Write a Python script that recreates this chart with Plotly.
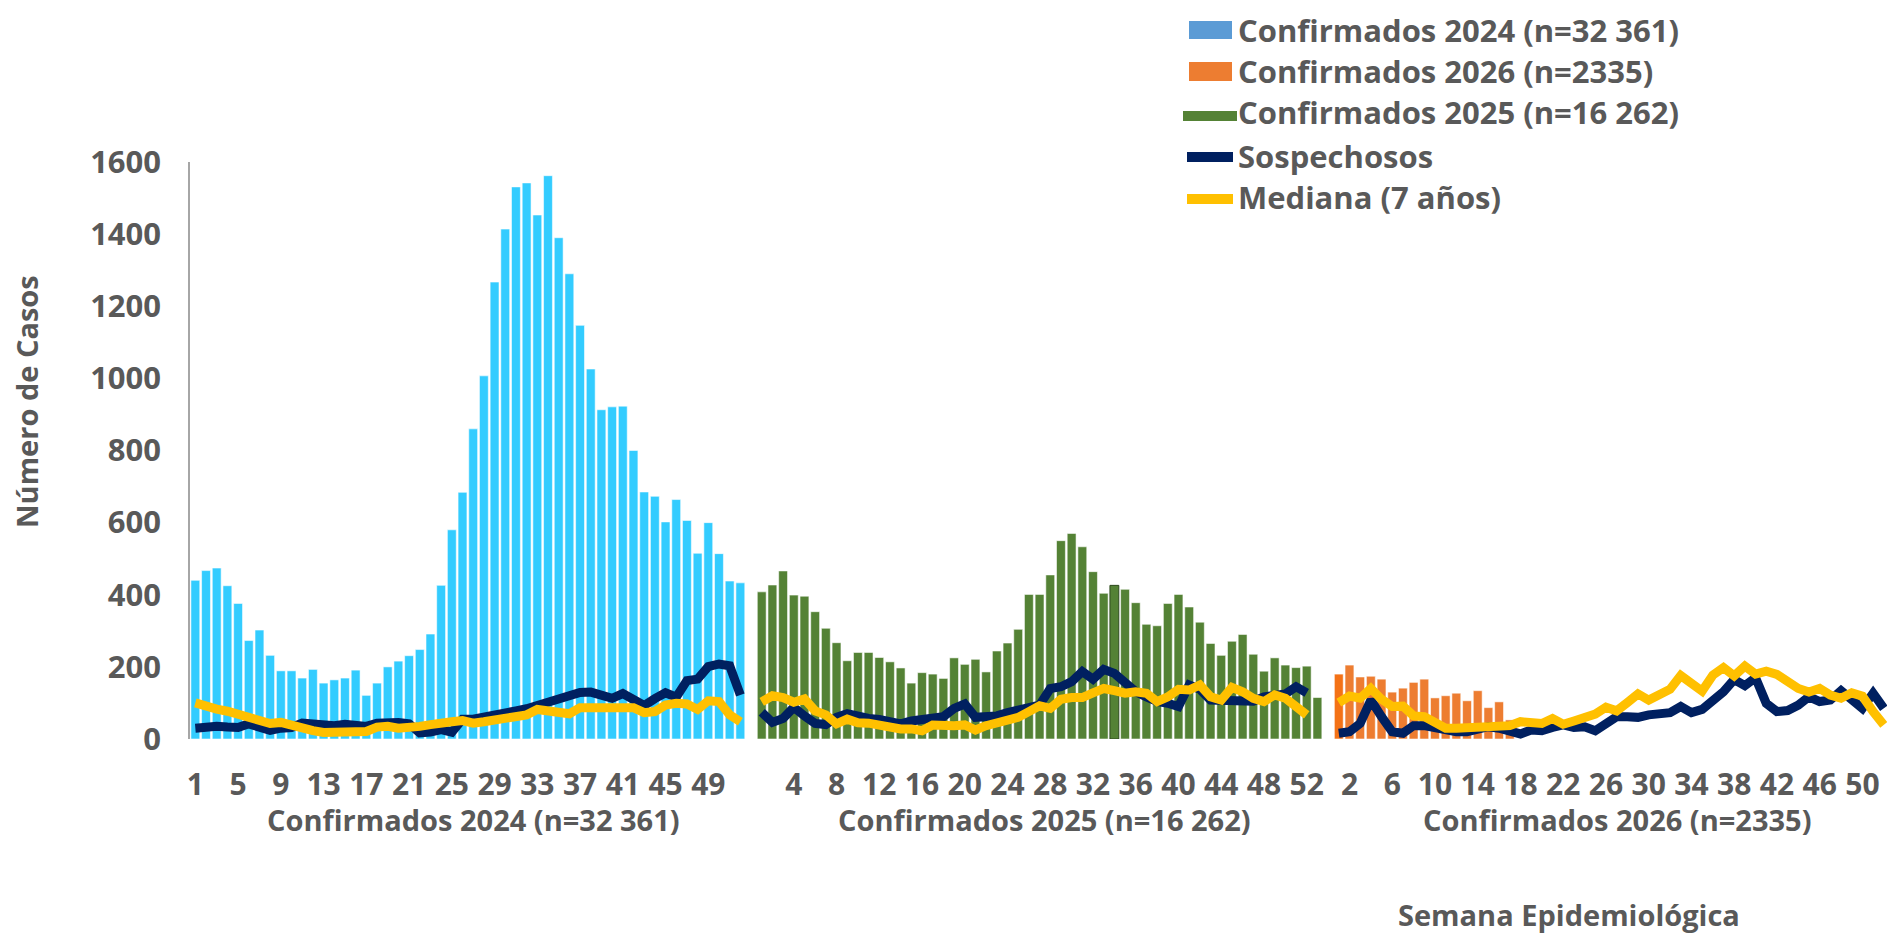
import plotly.graph_objects as go

# ---------------- data ----------------
weeks_2024 = list(range(1, 53))
weeks_2025 = list(range(1, 54))
weeks_2026 = list(range(1, 53))

conf_2024 = [440, 467, 474, 425, 376, 273, 302, 232, 189, 189,
             169, 193, 155, 164, 169, 191, 121, 155, 200, 216,
             231, 248, 291, 426, 580, 684, 860, 1007, 1267, 1414,
             1531, 1542, 1453, 1562, 1390, 1290, 1147, 1026, 913, 921,
             923, 800, 685, 673, 602, 664, 606, 515, 600, 514,
             438, 433]
conf_2025 = [408, 427, 466, 399, 396, 353, 307, 267, 217, 240,
             240, 226, 214, 197, 155, 184, 180, 168, 225, 207,
             221, 186, 244, 266, 304, 401, 401, 455, 550, 570,
             533, 464, 404, 426, 415, 378, 318, 314, 376, 401,
             366, 324, 265, 232, 271, 290, 235, 188, 225, 205,
             198, 202, 115]
conf_2026 = [180, 205, 172, 174, 166, 130, 141, 157, 166, 114,
             120, 127, 106, 134, 87, 103, 53]

sosp_2024 = [30, 35, 35, 33, 32, 42, 30, 24, 30, 32,
             44, 42, 35, 37, 41, 35, 35, 44, 47, 46,
             42, 17, 19, 26, 19, 55, 55, 60, 65, 67,
             78, 84, 93, 104, 108, 123, 129, 130, 119, 113,
             126, 112, 93, 112, 128, 116, 162, 166, 201, 208,
             203, 122]
sosp_2025 = [74, 46, 57, 88, 64, 43, 40, 60, 70, 62,
             57, 54, 45, 42, 50, 55, 55, 62, 85, 97,
             60, 62, 64, 73, 80, 85, 94, 140, 145, 159,
             187, 166, 193, 182, 159, 131, 117, 104, 99, 90,
             150, 138, 108, 108, 104, 104, 105, 117, 124, 125,
             145, 128]
sosp_2026 = [16, 20, 43, 108, 62, 20, 16, 37, 37, 31,
             22, 20, 20, 28, 34, 30, 22, 14, 25, 23,
             32, 39, 32, 34, 23, 39, 62, 62, 60, 67,
             71, 73, 90, 73, 82, 104, 131, 165, 148, 170,
             99, 76, 79, 94, 117, 104, 108, 134, 108, 85,
             127, 85]

med_2024 = [100, 89, 83, 77, 70, 58, 52, 43, 46, 37,
            28, 23, 18, 18, 23, 17, 21, 33, 35, 30,
            30, 35, 40, 46, 48, 51, 44, 48, 53, 53,
            61, 67, 82, 78, 76, 70, 87, 87, 93, 87,
            90, 87, 73, 76, 94, 99, 97, 82, 106, 104,
            67, 48]
med_2025 = [103, 120, 115, 102, 111, 78, 67, 42, 55, 45,
            44, 38, 30, 28, 28, 23, 39, 36, 37, 39,
            25, 37, 43, 51, 60, 76, 92, 85, 110, 115,
            115, 128, 140, 134, 127, 131, 127, 104, 117, 138,
            136, 150, 117, 108, 143, 131, 113, 104, 122, 113,
            90, 67]
med_2026 = [101, 119, 113, 140, 110, 90, 91, 64, 62, 48,
            30, 30, 31, 32, 38, 39, 37, 48, 43, 43,
            57, 41, 50, 57, 69, 88, 78, 101, 125, 108,
            125, 138, 176, 153, 133, 177, 198, 175, 202, 180,
            188, 179, 159, 140, 130, 140, 122, 113, 128, 119,
            76, 39]

years = [2024, 2025, 2026]
group_labels = ["Confirmados 2024 (n=32 361)",
                "Confirmados 2025 (n=16 262)",
                "Confirmados 2026 (n=2335)"]
legend_labels = ["Confirmados 2024 (n=32 361)",
                 "Confirmados 2026 (n=2335)",
                 "Confirmados 2025 (n=16 262)",
                 "Sospechosos",
                 "Mediana (7 años)"]
y_title = "Número de Casos"
x_title = "Semana Epidemiológica"
y_ticks = [0, 200, 400, 600, 800, 1000, 1200, 1400, 1600]

# ---------------- category slots (each year followed by one empty slot) ----------------
week_lists = {2024: weeks_2024, 2025: weeks_2025, 2026: weeks_2026}
offsets = {}
slot_text = []
pos = 0
for yr in years:
    offsets[yr] = pos
    slot_text += [str(w) for w in week_lists[yr]]
    slot_text.append("")
    pos += len(week_lists[yr]) + 1

def xpos(yr, n):
    return [offsets[yr] + w for w in week_lists[yr][:n]]

tickvals = list(range(1, len(slot_text) + 1, 4))
ticktext = [slot_text[i - 1] for i in tickvals]

GREY = "#595959"
FONT = "Open Sans"
W, H = 1887, 934
ML, MR, MT, MB = 190, 0, 162, 195
PW, PH = W - ML - MR, H - MT - MB

def px_x(p):
    return (p - ML) / PW

def px_y(p):
    return (H - MB - p) / PH

fig = go.Figure()

bar_cols = {2024: "#33CCFF", 2025: "#548235", 2026: "#ED7D31"}
conf = {2024: conf_2024, 2025: conf_2025, 2026: conf_2026}

for yr, lab in zip(years, group_labels):
    vals = conf[yr]
    cols = [bar_cols[yr]] * len(vals)
    lines = ["rgba(255,255,255,0.55)"] * len(vals)
    if yr == 2026:
        cols[0] = "#F47216"
    if yr == 2025:
        lines[33] = "#2E4A1E"
    fig.add_trace(go.Bar(
        x=xpos(yr, len(vals)), y=vals, name=lab, showlegend=False,
        marker=dict(color=cols, line=dict(color=lines, width=1)),
    ))

def joined(series):
    xs, ys = [], []
    for yr, s in zip(years, series):
        xs += xpos(yr, len(s)) + [None]
        ys += list(s) + [None]
    return xs, ys

sx, sy = joined([sosp_2024, sosp_2025, sosp_2026])
mx, my = joined([med_2024, med_2025, med_2026])

fig.add_trace(go.Scatter(x=sx, y=sy, mode="lines", name="Sospechosos", showlegend=False,
                         line=dict(color="#002060", width=9), connectgaps=False))
fig.add_trace(go.Scatter(x=mx, y=my, mode="lines", name="Mediana (7 años)", showlegend=False,
                         line=dict(color="#FFC000", width=9), connectgaps=False))

# ---------------- custom legend (top right) ----------------
legend_swatch = [("rect", "#5B9BD5", 1189, 1232, 21, 39),
                 ("rect", "#ED7D31", 1189, 1232, 62, 81),
                 ("rect", "#548235", 1183, 1237, 111, 121),
                 ("line", "#002060", 1187, 1233, 157, 157),
                 ("line", "#FFC000", 1187, 1233, 199, 199)]
legend_text_y = [30, 71, 112, 156, 197]
for (kind, col, x0, x1, y0, y1), lab, ty in zip(legend_swatch, legend_labels, legend_text_y):
    if kind == "rect":
        fig.add_shape(type="rect", xref="paper", yref="paper",
                      x0=px_x(x0), x1=px_x(x1), y0=px_y(y1), y1=px_y(y0),
                      fillcolor=col, line=dict(width=0), layer="above")
    else:
        fig.add_shape(type="line", xref="paper", yref="paper",
                      x0=px_x(x0), x1=px_x(x1), y0=px_y(y0), y1=px_y(y1),
                      line=dict(color=col, width=10), layer="above")
    fig.add_annotation(x=px_x(1236), y=px_y(ty), xref="paper", yref="paper",
                       text=lab, showarrow=False, xanchor="left", yanchor="middle",
                       font=dict(family=FONT, size=31, color=GREY, weight="bold"))

# group labels under the week ticks
for yr, lab in zip(years, group_labels):
    first = offsets[yr] + 1
    last = offsets[yr] + len(week_lists[yr])
    fig.add_annotation(x=(first + last + 1) / 2, y=px_y(819), xref="x", yref="paper",
                       text=lab, showarrow=False, xanchor="center", yanchor="middle",
                       font=dict(family=FONT, size=29, color=GREY, weight="bold"))

fig.add_annotation(x=px_x(1569), y=px_y(914), xref="paper", yref="paper", text=x_title,
                   showarrow=False, xanchor="center", yanchor="middle",
                   font=dict(family=FONT, size=29, color=GREY, weight="bold"))
fig.add_annotation(x=px_x(26), y=px_y(402), xref="paper", yref="paper", text=y_title,
                   textangle=-90, showarrow=False, xanchor="center", yanchor="middle",
                   font=dict(family=FONT, size=29, color=GREY, weight="bold"))

fig.update_layout(
    width=W, height=H,
    margin=dict(l=ML, r=MR, t=MT, b=MB),
    paper_bgcolor="white", plot_bgcolor="white",
    barmode="overlay", bargap=0.17,
    font=dict(family=FONT, color=GREY),
    showlegend=False,
    xaxis=dict(range=[0.5, 159.3], tickmode="array", tickvals=tickvals, ticktext=ticktext,
               showgrid=False, zeroline=False, showline=False,
               ticks="outside", ticklen=19, tickcolor="rgba(0,0,0,0)", tickangle=0,
               tickfont=dict(family=FONT, size=30, color=GREY, weight="bold")),
    yaxis=dict(range=[0, 1600], tickmode="array", tickvals=y_ticks,
               showgrid=False, zeroline=False, showline=True,
               linecolor="#A6A6A6", linewidth=1.5,
               ticks="outside", ticklen=21, tickcolor="rgba(0,0,0,0)",
               tickfont=dict(family=FONT, size=31, color=GREY, weight="bold")),
)

fig.write_html("out.html", config={"displayModeBar": False},
               post_script="document.body.style.margin='0px';")
